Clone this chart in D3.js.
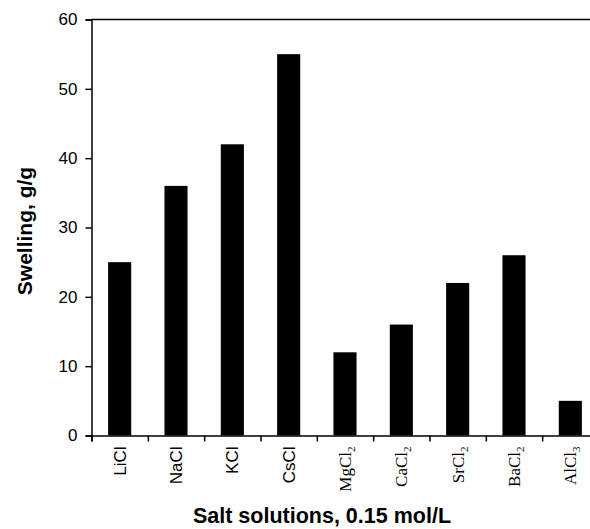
<!DOCTYPE html>
<html>
<head>
<meta charset="utf-8">
<script src="https://cdn.jsdelivr.net/npm/d3@7"></script>
<style>
  html, body { margin: 0; padding: 0; background: #fff; }
  svg { display: block; }
</style>
</head>
<body>
<svg id="chart" width="590" height="529"></svg>
<script>
// Swelling of the gel in 0.15 mol/L chloride solutions
const salts = ["LiCl", "NaCl", "KCl", "CsCl", "MgCl2", "CaCl2", "SrCl2", "BaCl2", "AlCl3"];
const swelling = [25, 36, 42, 55, 12, 16, 22, 26, 5];
const yTicks = [0, 10, 20, 30, 40, 50, 60];
const xTitle = "Salt solutions, 0.15 mol/L";
const yTitle = "Swelling, g/g";

const svg = d3.select("#chart");
const plotLeft = 91.5, plotRight = 598.5, plotTop = 19.5, plotBottom = 435.5;

const x = d3.scaleBand()
  .domain(salts)
  .range([plotLeft, plotRight])
  .paddingInner(0.59)
  .paddingOuter(0.295);

const y = d3.scaleLinear().domain([0, 60]).range([plotBottom, plotTop]);

// bars
svg.append("g")
  .selectAll("rect")
  .data(salts.map((s, i) => ({ s, v: swelling[i] })))
  .join("rect")
  .attr("x", d => x(d.s))
  .attr("y", d => y(d.v))
  .attr("width", x.bandwidth())
  .attr("height", d => y(0) - y(d.v))
  .attr("fill", "#000");

// y axis
const yAxis = svg.append("g")
  .attr("transform", `translate(${plotLeft},0)`)
  .call(d3.axisLeft(y).tickValues(yTicks).tickSize(6).tickPadding(8).tickFormat(d3.format("d")));
yAxis.select(".domain").attr("stroke-width", 1.5);
yAxis.selectAll(".tick line").attr("stroke-width", 1.5);
yAxis.selectAll("text")
  .attr("font-family", "'Liberation Sans', Arial, sans-serif")
  .attr("font-size", 17)
  .attr("fill", "#000");

// top frame line
svg.append("line")
  .attr("x1", plotLeft).attr("x2", plotRight)
  .attr("y1", y(60)).attr("y2", y(60))
  .attr("stroke", "#000").attr("stroke-width", 1.5);

// x axis: ticks on category boundaries
const xb = d3.scaleLinear().domain([0, salts.length]).range([plotLeft, plotRight]);
const xAxis = svg.append("g")
  .attr("transform", `translate(0,${plotBottom})`)
  .call(d3.axisBottom(xb).tickValues(d3.range(salts.length + 1)).tickSize(6).tickFormat(""));
xAxis.select(".domain").attr("stroke-width", 1.5);
xAxis.selectAll(".tick line").attr("stroke-width", 1.5);

// category labels, rotated, with subscripted trailing digits
const labels = svg.append("g");
salts.forEach(s => {
  const m = s.match(/^(.*?)(\d*)$/);
  const base = m[1], sub = m[2];
  const cx = x(s) + x.bandwidth() / 2;
  const t = labels.append("text")
    .attr("transform", `translate(${cx + 6},${plotBottom + 11}) rotate(-90)`)
    .attr("text-anchor", "end")
    .attr("fill", "#000");
  if (sub) {
    t.attr("font-family", "'Liberation Serif', 'Times New Roman', serif").attr("font-size", 17);
    t.append("tspan").text(base);
    t.append("tspan").attr("font-size", 11).attr("dy", 4).text(sub);
  } else {
    t.attr("font-family", "'Liberation Sans', Arial, sans-serif").attr("font-size", 17);
    t.text(base);
  }
});

// axis titles
svg.append("text")
  .attr("x", 322).attr("y", 523)
  .attr("text-anchor", "middle")
  .attr("font-family", "'Liberation Sans', Arial, sans-serif")
  .attr("font-weight", "bold")
  .attr("font-size", 21.5)
  .attr("fill", "#000")
  .text(xTitle);

svg.append("text")
  .attr("transform", `translate(32,231) rotate(-90)`)
  .attr("text-anchor", "middle")
  .attr("font-family", "'Liberation Sans', Arial, sans-serif")
  .attr("font-weight", "bold")
  .attr("font-size", 21)
  .attr("fill", "#000")
  .text(yTitle);
</script>
</body>
</html>
